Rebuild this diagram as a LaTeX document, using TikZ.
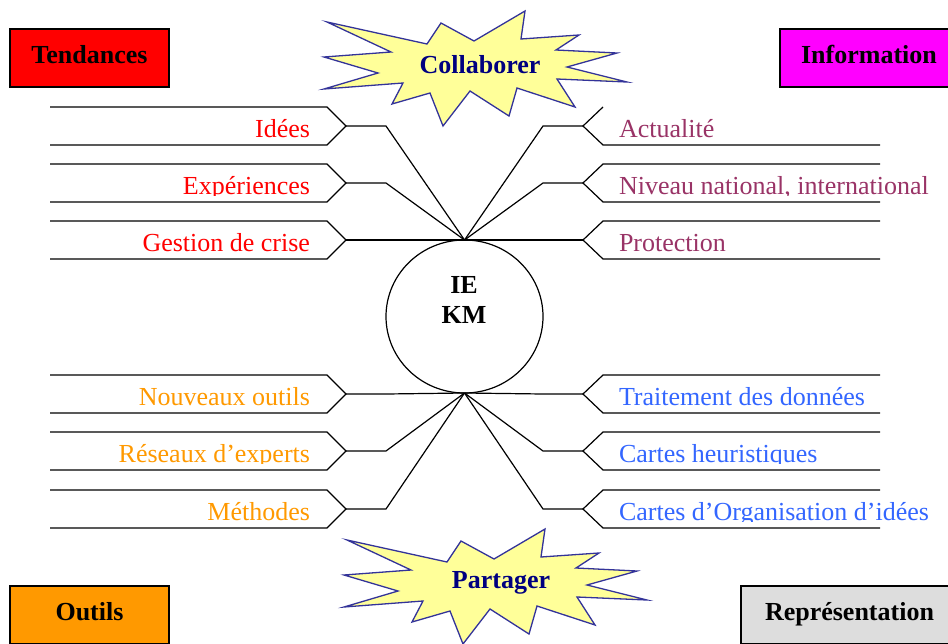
\documentclass[tikz,border=0pt]{standalone}
\usepackage{fontspec}
\setmainfont{Liberation Serif}
\usetikzlibrary{shapes.geometric}
\definecolor{tendred}{HTML}{FF0000}
\definecolor{infomag}{HTML}{FF00FF}
\definecolor{infoplum}{HTML}{993366}
\definecolor{outorange}{HTML}{FF9900}
\definecolor{repgrey}{HTML}{DDDDDD}
\definecolor{repblue}{HTML}{3366FF}
\definecolor{starfill}{HTML}{FFFF99}
\definecolor{starline}{HTML}{333399}
\definecolor{starnavy}{HTML}{000080}
\tikzset{
    every node/.style={inner sep=0pt, outer sep=0pt,
    	font=\fontsize{26}{30}\selectfont}
}
\tikzset{
    boldtxt/.style={font=\fontsize{26}{30}\selectfont\bfseries}
}
\tikzset{
    theme/.style={boldtxt, draw, line width=1.5pt, anchor=north west,
    	minimum height=58pt, text height=17pt, text depth=7pt}
}
\tikzset{
    burst/.pic={\draw[draw=starline, fill=starfill, line width=1.3pt]
    	(-153,-42) -- (-53,-20) -- (-39,-41) -- (-6,-23) -- (45,-53) -- (41,-25)
    	-- (99,-29) -- (76,-14) -- (137,-11) -- (87,3) -- (147,18) -- (77,15)
    	-- (95,43) -- (37,24) -- (29,52) -- (-10,27) -- (-37,62) -- (-50,29)
    	-- (-88,40) -- (-77,19) -- (-156,25) -- (-102,9) -- (-156,-7) -- (-89,-12)
    	-- cycle;}
}

\begin{document}
\begin{tikzpicture}[x=1pt, y=-1pt, line width=1.2pt]
	\useasboundingbox (0,0) rectangle (948,643);

	% the four corners
	\node[theme, fill=tendred, minimum width=159pt] (tend) at (10,29) {Tendances};
	\node[theme, fill=infomag, minimum width=178pt] (info) at (780,29) {Information};
	\node[theme, fill=outorange, minimum width=159pt] (outils) at (10,586) {Outils};
	\node[theme, fill=repgrey, minimum width=217pt] (repr) at (741,586) {Représentation};

	\pic at (480,64) {burst};
	\pic at (500,582) {burst};
	\node[boldtxt, text=starnavy, anchor=base] (collab) at (480,73) {Collaborer};
	\node[boldtxt, text=starnavy, anchor=base] (partager) at (501,588) {Partager};

	\node[ellipse, draw, minimum width=157pt, minimum height=153pt] (core) at (464.5,316.5) {};
	\node[boldtxt, anchor=base] (ie) at (464,293) {IE};
	\node[boldtxt, anchor=base] (km) at (464,323) {KM};

	% left branches
	\foreach \y/\txt/\col/\h [count=\i] in {107/Idées/tendred/north,
		164/Expériences/tendred/north, 221/Gestion de crise/tendred/north,
		375/Nouveaux outils/outorange/south, 432/Réseaux d’experts/outorange/south,
		490/Méthodes/outorange/south}{
		\draw (50,\y) -- (327,\y) -- (346,\y+19) -- (327,\y+38) -- (50,\y+38);
		\coordinate (tl\i) at (346,\y+19);
		\draw (tl\i) -- ++(40,0) -- (core.\h);
		\begin{scope}
			\clip (0,\y) rectangle (948,\y+31);
			\node[anchor=base east, text=\col] (l\i) at (310,\y+30) {\txt};
		\end{scope}
	}

	% right branches
	\foreach \y/\txt/\col/\h/\e [count=\i] in {107/Actualité/infoplum/north/603,
		164/{Niveau national, international}/infoplum/north/880,
		221/Protection/infoplum/north/880,
		375/Traitement des données/repblue/south/880,
		432/Cartes heuristiques/repblue/south/880,
		490/Cartes d’Organisation d’idées/repblue/south/880}{
		\draw (\e,\y) -- (603,\y) -- (583,\y+19) -- (603,\y+38) -- (880,\y+38);
		\coordinate (tr\i) at (583,\y+19);
		\draw (tr\i) -- ++(-40,0) -- (core.\h);
		\begin{scope}
			\clip (0,\y) rectangle (948,\y+31);
			\node[anchor=base west, text=\col] (r\i) at (619,\y+30) {\txt};
		\end{scope}
	}
\end{tikzpicture}
\end{document}
